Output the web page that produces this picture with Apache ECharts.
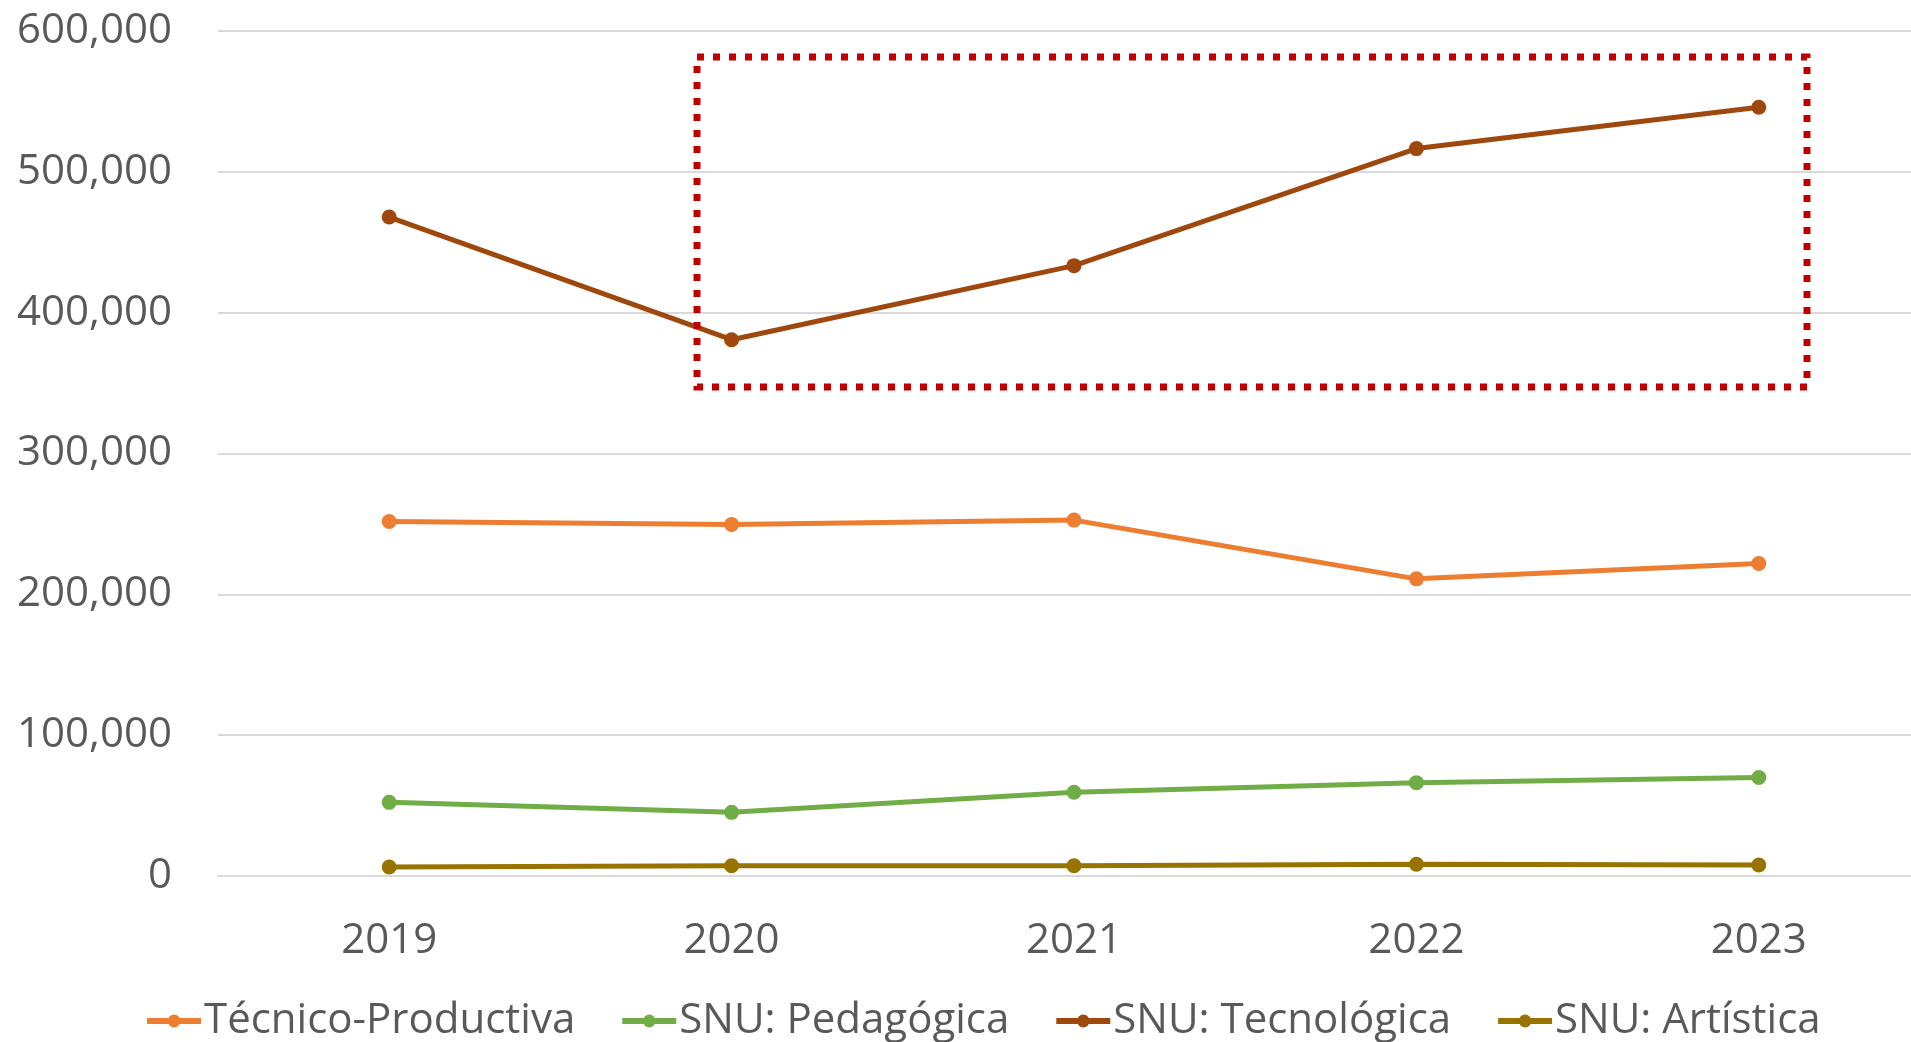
<!DOCTYPE html>
<html>
<head>
<meta charset="utf-8">
<script src="https://cdn.jsdelivr.net/npm/echarts@6/dist/echarts.min.js"></script>
<style>
  html, body { margin: 0; padding: 0; background: #fff; overflow: hidden; }
  /* el gráfico original está recortado a la derecha: el área de trazado sigue más allá del borde */
  #chart { width: 1930px; height: 1042px; }
</style>
</head>
<body>
<div id="chart"></div>
<script>
const years = ['2019', '2020', '2021', '2022', '2023'];
const tecnicoProductiva = [251700, 249600, 252700, 211000, 221900];
const snuPedagogica = [52300, 45200, 59500, 66300, 69900];
const snuTecnologica = [467900, 380800, 433400, 516500, 545900];
const snuArtistica = [6400, 7300, 7300, 8300, 7800];

const FONT = '"Open Sans", "Noto Sans", sans-serif';
const TEXT_COLOR = '#595959';

function lineSeries(name, data, color) {
  return {
    name,
    type: 'line',
    data,
    symbol: 'circle',
    symbolSize: 15,
    lineStyle: { width: 5, color },
    itemStyle: { color },
    emphasis: { disabled: true },
    animation: false
  };
}

const chart = echarts.init(document.getElementById('chart'), null, { renderer: 'canvas' });

chart.setOption({
  animation: false,
  backgroundColor: '#fff',
  grid: { left: 218, right: 0, top: 31, bottom: 166 },
  legend: {
    left: 144,
    top: 1000,
    padding: 0,
    itemWidth: 54,
    itemHeight: 16,
    itemGap: 44,
    lineStyle: { width: 6 },
    textStyle: { fontFamily: FONT, fontSize: 42, color: TEXT_COLOR, padding: [0, 0, 0, -2] },
    data: ['Técnico-Productiva', 'SNU: Pedagógica', 'SNU: Tecnológica', 'SNU: Artística']
  },
  xAxis: {
    type: 'category',
    data: years,
    boundaryGap: true,
    axisLine: { lineStyle: { color: '#d9d9d9', width: 2 } },
    axisTick: { show: false },
    axisLabel: { fontFamily: FONT, fontSize: 42, color: TEXT_COLOR, margin: 44 }
  },
  yAxis: {
    type: 'value',
    min: 0,
    max: 600000,
    interval: 100000,
    axisLine: { show: false },
    axisTick: { show: false },
    axisLabel: {
      fontFamily: FONT,
      fontSize: 42,
      color: TEXT_COLOR,
      margin: 46,
      padding: [14, 0, 0, 0],
      formatter: (v) => Number(v).toLocaleString('en-US')
    },
    splitLine: { lineStyle: { color: '#d9d9d9', width: 2 } }
  },
  series: [
    lineSeries('Técnico-Productiva', tecnicoProductiva, '#ED7D31'),
    lineSeries('SNU: Pedagógica', snuPedagogica, '#70AD47'),
    lineSeries('SNU: Tecnológica', snuTecnologica, '#9E480E'),
    lineSeries('SNU: Artística', snuArtistica, '#997300')
  ],
  // recuadro punteado que resalta el tramo 2020-2023
  graphic: [{
    type: 'rect',
    shape: { x: 697, y: 57, width: 1110, height: 330 },
    style: { fill: null, stroke: '#C00000', lineWidth: 7, lineDash: [7, 9] },
    z: 10
  }]
});
</script>
</body>
</html>
